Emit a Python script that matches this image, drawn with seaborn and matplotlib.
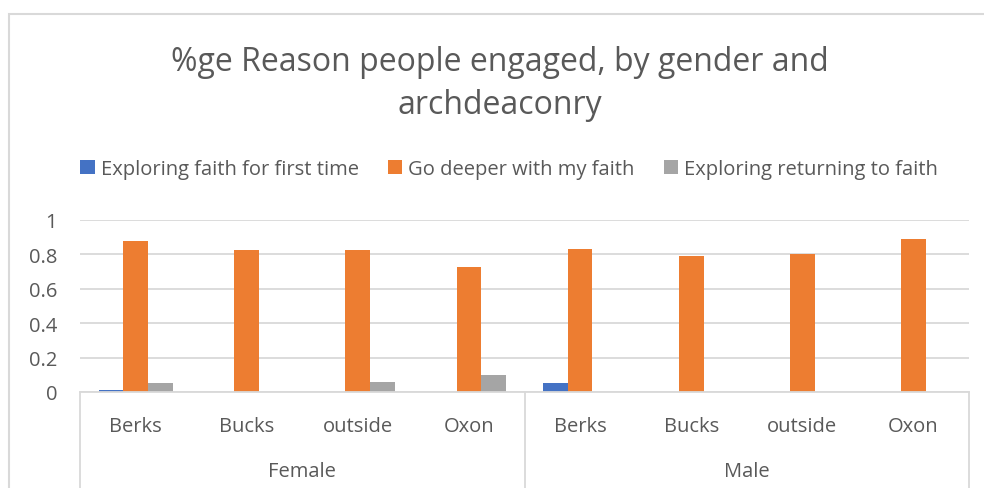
import matplotlib
matplotlib.use("Agg")
import matplotlib.pyplot as plt
import matplotlib.transforms as mtransforms
from matplotlib.patches import Rectangle, Patch
import seaborn as sns
import pandas as pd

# ---- data ----
genders = ["Female", "Male"]
archdeaconries = ["Berks", "Bucks", "outside", "Oxon"]
series_names = ["Exploring faith for first time", "Go deeper with my faith", "Exploring returning to faith"]
first_time = [0.013, 0.0, 0.0, 0.0, 0.052, 0.0, 0.0, 0.0]
go_deeper = [0.875, 0.828, 0.824, 0.729, 0.834, 0.792, 0.800, 0.890]
returning = [0.050, 0.0, 0.058, 0.100, 0.0, 0.0, 0.0, 0.0]
y_ticks = [0, 0.2, 0.4, 0.6, 0.8, 1]
y_tick_labels = ["0", "0.2", "0.4", "0.6", "0.8", "1"]
title = "%ge Reason people engaged, by gender and\narchdeaconry"

colors = ["#4472C4", "#ED7D31", "#A5A5A5"]
text_color = "#595959"
grid_color = "#D9D9D9"

sns.set_theme(style="white")
plt.rcParams["font.family"] = ["Open Sans", "DejaVu Sans"]

cats = [f"{g}|{a}" for g in genders for a in archdeaconries]
rows = []
for s, vals in zip(series_names, [first_time, go_deeper, returning]):
    for c, v in zip(cats, vals):
        rows.append({"cat": c, "series": s, "value": v})
df = pd.DataFrame(rows)

fig = plt.figure(figsize=(9.84, 4.89), dpi=100)
ax = fig.add_axes([80 / 984, 1 - 393 / 489, 889 / 984, 172 / 489])

sns.barplot(data=df, x="cat", y="value", hue="series", order=cats,
            hue_order=series_names, palette=colors, width=0.667,
            saturation=1, edgecolor="none", linewidth=0, legend=False, ax=ax)

ax.set_ylim(0, 1)
ax.set_xlim(-0.5, len(cats) - 0.5)
ax.set_yticks(y_ticks)
ax.set_yticklabels(y_tick_labels, color=text_color, fontsize=14.5)
ax.yaxis.grid(True, color=grid_color, linewidth=1.3)
ax.set_axisbelow(True)
for sp in ["left", "right", "top"]:
    ax.spines[sp].set_visible(False)
ax.spines["bottom"].set_color(grid_color)
ax.spines["bottom"].set_linewidth(1.3)
ax.tick_params(axis="y", length=0, pad=16.5)
ax.tick_params(axis="x", length=0)
ax.set_xticks([])
ax.set_xlabel("")
ax.set_ylabel("")

trans = mtransforms.blended_transform_factory(ax.transData, ax.transAxes)
labels_x = [a for g in genders for a in archdeaconries]
for i, lab in enumerate(labels_x):
    ax.text(i, -0.195, lab, transform=trans, ha="center", va="center",
            fontsize=14.5, color=text_color)
for gi, g in enumerate(genders):
    ax.text(gi * 4 + 1.5, -0.46, g, transform=trans, ha="center", va="center",
            fontsize=14.5, color=text_color)
for xb in [-0.5, 3.5, 7.5]:
    ax.plot([xb, xb], [0, -0.6], transform=trans, color=grid_color,
            linewidth=1.3, clip_on=False)

fig.text(500 / 984, 1 - 84 / 489, title, ha="center", va="center", fontsize=23,
         color=text_color, linespacing=1.38)

handles = [Patch(facecolor=c, edgecolor="none") for c in colors]
fig.legend(handles, series_names, loc="center", bbox_to_anchor=(509 / 984, 1 - 170 / 489),
           ncol=3, frameon=False, fontsize=14.5, labelcolor=text_color,
           handlelength=0.7, handleheight=0.7, handletextpad=0.3, columnspacing=1.45)

fig.patches.append(Rectangle((9 / 984, -0.1), 1.2, 1 - 15 / 489 + 0.1,
                             transform=fig.transFigure, fill=False,
                             edgecolor=grid_color, linewidth=1.5))

fig.savefig("out.png", dpi=100)
